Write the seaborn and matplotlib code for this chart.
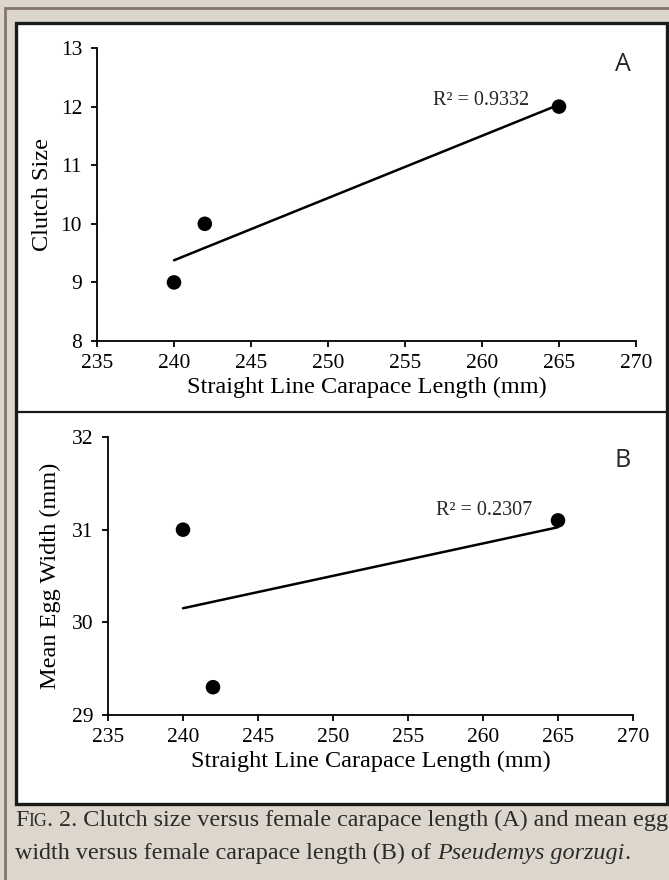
import matplotlib
matplotlib.use("Agg")
import matplotlib.pyplot as plt
import seaborn as sns
import pandas as pd
from matplotlib.patches import Rectangle
from matplotlib.offsetbox import TextArea, HPacker, AnchoredOffsetbox

# ---- data ----
carapace_length = [240, 242, 265]
clutch_size = [9, 10, 12]
egg_width = [31.0, 29.3, 31.1]
r2_labels = ["R\u00b2 = 0.9332", "R\u00b2 = 0.2307"]
panel_letters = ["A", "B"]
x_ticks = [235, 240, 245, 250, 255, 260, 265, 270]
yA_ticks = [8, 9, 10, 11, 12, 13]
yB_ticks = [29, 30, 31, 32]
x_label = "Straight Line Carapace Length (mm)"
yA_label = "Clutch Size"
yB_label = "Mean Egg Width (mm)"

dfA = pd.DataFrame({"x": carapace_length, "y": clutch_size})
dfB = pd.DataFrame({"x": carapace_length, "y": egg_width})

sns.set_style("white")
plt.rcParams["font.family"] = ["Liberation Serif", "DejaVu Serif"]

W, H = 669, 880
fig = plt.figure(figsize=(W / 100, H / 100), dpi=100)
BEIGE = "#ddd6cd"
fig.patch.set_facecolor(BEIGE)

def fx(px):
    return px / W

def fy(py):
    return 1 - py / H

# outer brown border
fig.patches.append(Rectangle((fx(5), fy(900)), fx(700), (900 - 8) / H,
                             transform=fig.transFigure, facecolor="none",
                             edgecolor="#85766e", linewidth=2.0, zorder=-3))
# white panel with black frame
fig.patches.append(Rectangle((fx(15.5), fy(804)), fx(667 - 15.5), (804 - 23) / H,
                             transform=fig.transFigure, facecolor="white",
                             edgecolor="#1a1a1a", linewidth=2.4, zorder=-2))
# separator
fig.add_artist(plt.Line2D([fx(15.5), fx(667)], [fy(412), fy(412)],
                          transform=fig.transFigure, color="#1a1a1a", lw=1.6, zorder=-1))

def make_axes(left, right, top, bottom):
    return fig.add_axes([fx(left), fy(bottom), fx(right - left), (bottom - top) / H])

axA = make_axes(97, 636, 48, 341)
axB = make_axes(108, 633, 437, 715)

panels = [
    (axA, dfA, yA_ticks, yA_label, 42),
    (axB, dfB, yB_ticks, yB_label, 50),
]

for ax, df, yt, ylab, ylab_x in panels:
    ax.set_facecolor("none")
    ax.set_zorder(2)
    sns.regplot(data=df, x="x", y="y", ax=ax, ci=None, truncate=True,
                scatter_kws=dict(s=110, color="black", alpha=1, edgecolors="none", zorder=3),
                line_kws=dict(color="black", lw=1.8))
    ax.set_xlim(x_ticks[0], x_ticks[-1])
    ax.set_ylim(yt[0], yt[-1])
    ax.set_xticks(x_ticks)
    ax.set_yticks(yt)
    ax.tick_params(axis="both", direction="out", length=4.2, width=1.3,
                   color="black", labelsize=15.5, labelcolor="black",
                   bottom=True, left=True)
    ax.tick_params(axis="x", pad=5)
    ax.tick_params(axis="y", pad=6.5)
    for s in ["top", "right"]:
        ax.spines[s].set_visible(False)
    for s in ["left", "bottom"]:
        ax.spines[s].set_color("black")
        ax.spines[s].set_linewidth(1.3)
    ax.set_xlabel(x_label, fontsize=17.5, color="black", labelpad=3)
    ax.set_ylabel(ylab, fontsize=17.5, color="black")
    ax.yaxis.set_label_coords(fx(ylab_x), 0.5,
                              transform=matplotlib.transforms.blended_transform_factory(
                                  fig.transFigure, ax.transAxes))
    ax.yaxis.label.set_va("center")
    ax.grid(False)

# R^2 labels and panel letters
axA.text(256.8, 12.11, r2_labels[0], fontsize=14.5, va="center", ha="left")
axA.text(0.976, 0.945, panel_letters[0], transform=axA.transAxes, fontsize=18,
         family=["Open Sans", "DejaVu Sans"], ha="center", va="center")
axB.text(256.9, 31.21, r2_labels[1], fontsize=14.5, va="center", ha="left")
axB.text(0.981, 0.915, panel_letters[1], transform=axB.transAxes, fontsize=18,
         family=["Open Sans", "DejaVu Sans"], ha="center", va="center")

# caption with small caps "FIG."
cap_color = "#2b2b2b"
cap_fs = 17.4
tp = dict(color=cap_color, fontsize=cap_fs, family=["Liberation Serif", "DejaVu Serif"])
tps = dict(color=cap_color, fontsize=cap_fs * 0.74, family=["Liberation Serif", "DejaVu Serif"])
line1 = HPacker(children=[TextArea("F", textprops=tp),
                          TextArea("IG", textprops=tps),
                          TextArea(". 2. Clutch size versus female carapace length (A) and mean egg",
                                   textprops=tp)],
                align="baseline", pad=0, sep=0)
box1 = AnchoredOffsetbox(loc="center left", child=line1, pad=0, frameon=False,
                         bbox_to_anchor=(fx(15), fy(820)), bbox_transform=fig.transFigure,
                         borderpad=0)
fig.add_artist(box1)
line2 = HPacker(children=[TextArea("width versus female carapace length (B) of ", textprops=tp),
                          TextArea("Pseudemys gorzugi", textprops=dict(tp, style="italic")),
                          TextArea(".", textprops=tp)],
                align="baseline", pad=0, sep=0)
box2 = AnchoredOffsetbox(loc="center left", child=line2, pad=0, frameon=False,
                         bbox_to_anchor=(fx(15), fy(853)), bbox_transform=fig.transFigure,
                         borderpad=0)
fig.add_artist(box2)

fig.savefig("out.png", dpi=100, facecolor=fig.get_facecolor())
